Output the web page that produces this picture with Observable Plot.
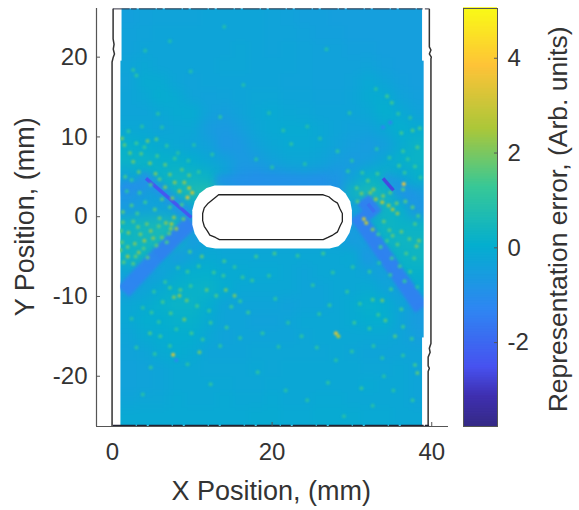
<!DOCTYPE html>
<html><head><meta charset="utf-8">
<script src="https://cdn.jsdelivr.net/npm/d3@7"></script>
<script src="https://cdn.jsdelivr.net/npm/@observablehq/plot@0.6"></script>
<style>
html,body{margin:0;padding:0;background:#fff}
#wrap{position:relative;width:579px;height:510px}
#wrap svg{position:absolute;left:0;top:0;background:transparent}
.soft{filter:blur(0.9px)}
.thin{filter:blur(0.6px)}
.band{filter:blur(1.6px)}
.softer{filter:blur(3px)}
</style></head><body><div id="wrap"></div>
<script>
// Error field sampled every 2 mm, rows y = 25 ... -25, columns x = 2 ... 38
const errorRows = [
[-.45,-.4,-.35,-.35,-.35,-.3,-.3,-.3,-.3,-.35,-.4,-.45,-.45,-.5,-.5,-.5,-.5,-.5,-.5],
[-.4,-.35,-.3,-.3,-.3,-.3,-.3,-.3,-.3,-.35,-.35,-.4,-.45,-.45,-.5,-.5,-.5,-.5,-.5],
[-.4,-.3,-.3,-.3,-.3,-.3,-.3,-.25,-.3,-.35,-.3,-.35,-.4,-.4,-.45,-.45,-.5,-.5,-.5],
[-.3,-.2,-.3,-.3,-.3,-.3,-.25,-.25,-.3,-.3,-.3,-.35,-.4,-.4,-.4,-.35,-.45,-.5,-.5],
[-.35,-.1,-.1,-.3,-.35,-.3,-.3,-.3,-.3,-.3,-.35,-.35,-.4,-.4,-.35,-.15,-.3,-.45,-.5],
[-.3,-.2,0,-.1,-.35,-.4,-.35,-.3,-.25,-.25,-.3,-.3,-.35,-.35,-.3,-.1,-.05,-.35,-.45],
[-.3,-.3,-.2,-.1,-.05,-.4,-.5,-.35,-.2,-.15,-.2,-.25,-.3,-.3,-.3,-.2,.05,-.15,-.35],
[-.2,-.2,-.3,-.2,-.2,-.6,-.7,-.5,-.25,-.15,-.1,-.1,-.2,-.3,-.4,-.4,-.2,.05,-.1],
[.1,0,-.1,-.2,-.3,-.4,-.8,-.7,-.4,-.2,-.15,-.15,-.2,-.35,-.5,-.6,-.5,-.1,.2],
[.2,.2,.1,.1,0,-.2,-.4,-.7,-.6,-.4,-.25,-.25,-.3,-.5,-.6,-.5,-.2,.1,.2],
[-.3,.1,.2,.3,.3,.2,-.3,-.8,-.9,-.8,-.7,-.6,-.7,-.8,-.4,.1,.2,-.3,.1],
[-.8,-.6,-.2,.3,.6,.8,-.7,-.9,-.9,-.9,-.9,-.9,-.9,-.9,.3,.6,.3,-.6,-.6],
[-.6,-.4,-.4,-.4,-.2,-.5,-.5,-.5,-.5,-.5,-.5,-.5,-.5,-.5,-.4,-.9,.3,.1,-.8],
[.3,.4,.5,.4,-.5,-.5,-.5,-.5,-.5,-.5,-.5,-.5,-.5,-.5,-.6,-.1,.3,.2,.2],
[.3,.4,.5,.2,-.6,-.3,-.3,-.3,-.3,-.3,-.3,-.3,-.3,-.3,-.6,-.5,.2,.3,.3],
[.3,.3,-.2,-.6,-.3,-.1,-.2,-.2,-.2,-.2,-.2,-.2,-.2,-.2,-.1,-.8,-.2,.2,.3],
[-.3,-.6,-.4,-.1,.05,.05,-.1,-.1,-.15,-.15,-.2,-.3,-.2,-.2,-.2,-.3,-.5,.1,.1],
[-.6,-.3,-.1,.1,.15,.2,0,-.2,-.2,-.2,-.2,-.3,-.3,-.2,-.2,-.1,-.3,-.5,-.1],
[-.2,-.1,.1,.2,.2,0,-.3,-.3,-.3,-.3,-.4,-.3,-.3,-.2,-.1,.1,0,-.3,-.6],
[-.2,0,0,.1,.1,-.1,-.3,-.3,-.4,-.4,-.3,-.2,-.2,-.2,-.1,0,.05,-.3,-.6],
[-.3,-.1,-.05,0,0,-.2,-.35,-.3,-.3,-.3,-.3,-.25,-.2,-.2,-.2,-.2,-.2,-.3,-.5],
[-.35,-.3,-.1,-.05,-.1,-.3,-.3,-.3,-.25,-.25,-.25,-.25,-.25,-.2,-.25,-.3,-.3,-.3,-.3],
[-.4,-.35,-.3,-.2,-.2,-.25,-.25,-.25,-.2,-.25,-.2,-.2,-.2,-.2,-.2,-.25,-.25,-.2,-.3],
[-.4,-.35,-.3,-.2,-.2,-.2,-.2,-.25,-.25,-.2,-.2,-.2,-.2,-.2,-.2,-.15,-.2,-.2,-.3],
[-.3,-.25,-.25,-.15,-.2,-.2,-.15,-.2,-.2,-.15,-.2,-.2,-.15,-.15,-.2,-.2,-.2,-.2,-.3],
[-.15,-.15,-.15,-.15,-.15,-.15,-.15,-.15,-.1,-.1,-.15,-.15,-.1,-.1,-.1,-.15,-.15,-.2,-.2]
];
const wideBands = [
[9.9,-.6,5.5,-5,-1.5],[5.5,-5,1.4,-9.4,-1.4],
[30.6,.2,38.7,-11.5,-1.5],
[31.4,2.2,33,.2,-1.5]
];
const softBands = [
[3.6,5.4,10,-.2,-1.2],[1,3.6,4.2,4,-1.1],[34,5.2,38,2,-.9],[13,4.6,27,4.6,-1]
];
const thinStreaks = [
[4.2,4.8,9.9,-.1,-2.4],[33.9,4.8,35.2,3.3,-2.7],[32,1.6,32.8,.6,-1.8]
];
const speckles = [
[1.2,9.8,1.8],[1.5,9,1.6],[3,9.2,1.2],[4.4,9.5,1.8],[5.5,9.7,1.5],[2.2,8,1.6],[3.6,7.9,1.5],[5.6,7.6,1.3],[7.8,7.3,1.1],[2.6,6.9,1.7],
[4.7,6.7,1.8],[6.6,6.5,1.6],[8.7,5.9,1.5],[3.3,5.6,1.6],[5.4,5.4,1.9],[7.2,5.3,1.7],[9.6,5.2,1.6],[7.8,4.3,2],[9,4.3,2.1],[6.6,3.7,1.9],
[8.4,3.2,2.3],[9.6,3.6,2.6],[10,3,3],[9.4,2.4,3.2],[7.5,2.3,1.9],[6.2,2.2,1.5],[8.7,1.5,1.4],[2.4,1.4,1.4],[1.3,.6,1.6],[5.3,.9,1.5],
[6.7,-.8,2],[7.4,-.9,2.4],[8,-1.5,2.2],[5.8,-1.2,1.6],[4.8,-1.8,2],[3.2,-1.3,1.7],[2,-2,1.9],[1.3,-.7,1.6],[6.2,-2.6,1.8],[4,-3,2.2],
[2.8,-3.4,1.9],[1.2,-3.2,1.6],[5.5,-3.6,1.6],[3.3,-4.5,2],[1.9,-5,2.2],[1,-4.2,1.8],[4.4,-5.1,1.5],[2.6,-5.9,1.5],[7.7,-.1,2.1],[8.9,-.3,1.7],
[9.7,-4.4,1.4],[11.2,-5,1.6],[14,-5.6,1.3],[18,-5,1.3],[20.3,-4.6,1.4],[23.2,-4.9,1.1],[26.4,-4.6,1.3],[9.8,-8.7,1.2],[8.5,-9.2,1.5],[7.7,-10.1,1.9],
[8.4,-9.9,2.1],[9.3,-10.5,1.7],[11.8,-9.2,1.6],[13,-9.9,1.4],[14.2,-9.2,1.8],[15.3,-9.9,1.9],[6.3,-10.7,1.3],[13.9,-7.4,1.2],[16.3,-7.6,1.1],[4.9,-12,1.1],
[7.3,-12.1,1.4],[9,-12.9,1.8],[12.3,-13.3,1.2],[4.7,-14.6,1.4],[6,-15,1.2],[7.6,-17.3,3.2],[8,-18,-1.2],[9.9,-14.6,1.3],[10.9,-17,1.8],[14.3,-13.9,1.2],
[17,-12,1.2],[20.4,-10.3,1],[22,-13.3,.9],[25.1,-8.6,1],[27.2,-11.1,1.1],[4.8,-18.9,1],[3.8,-22.3,.9],[12.3,-21,1],[18.2,-19.5,1],[21.7,-21.8,.9],
[27,-20.8,1],[30.3,-13.3,1.2],[32.6,-10.4,1.4],[32.2,-14,1.1],[34.2,-13,1.5],[33.8,-10.5,1.7],[35.4,-15,1.5],[36.6,-8.1,1.1],[37.3,-6.9,1.3],[34.8,-7.3,1.1],
[28,-14.6,3.3],[28.3,-15,2.6],[25.9,-12.2,1],[30,-16.9,1],[34,-20,.9],[37.6,-23,1],[38.2,-19.6,1.6],[37.9,-18.6,1.3],[31.2,-21.5,1.1],[29,-25,.9],
[31.5,-.3,3],[31.8,-.8,2.8],[32.6,-1.6,2],[33.3,-2.2,1.2],[34,-.6,1.6],[34.7,-1.7,1.5],[36.2,-1.9,1.7],[37.2,-2.8,1.5],[38.1,-3.7,1.9],[38.4,-3,1.8],
[35.7,-3.5,1.5],[36.8,-4.6,1.4],[35,-5.2,1.2],[33,2.2,2.2],[33.8,1.8,2.6],[34.6,1.4,2.2],[35.1,.9,2.4],[35.7,.4,2.1],[31.2,2.9,1.8],[32,4.5,1.5],
[32.7,3.4,2],[33.9,2.6,1.9],[30.6,3.6,1.5],[30.7,1.9,1.5],[36.5,4.1,3.6],[36.4,3.4,1.5],[37.6,1.2,1.5],[35.9,6.4,1.3],[36.4,8.2,1.2],[38.2,8.7,1.4],
[36.2,10.5,1.3],[37.6,10.8,1.4],[38.5,11.1,1.3],[29.7,13,.9],[33,16,.9],[34.4,15.1,1.3],[35,14.3,1.3],[33.9,11.2,-1.3],[34.8,11.8,-1.4],[30,7,.9],
[3,17.7,1],[2.6,18.4,1],[5.7,12.9,.9],[4.1,20.8,.8],[13.5,12.5,1],[21.4,10.8,.9],[22.4,9.1,1],[28.2,8.2,1],[24.4,11.3,.8],[26.8,21,.8],[14,23.8,.8],
[1.8,3.2,.9],[3.4,3,1.1],[4.8,4,1.3],[5.9,4.7,1.5],[4,8.7,1.1],[6.8,8.9,1],[8.2,8,.9],[9.5,7,.9],[10.8,5.6,1.1],[2,10.7,1],
[3.7,11.3,.9],[6.2,11.2,.8],[1.6,5,1.4],[2.4,4.6,1],[7.2,1.2,1.3],[4.1,1.8,1.2],[3.1,.4,1.3],[5.9,-.2,1.6],[2.6,-.6,1.5],[4.3,-.9,1.7],
[7.1,-2.1,1.6],[5.1,-2.7,2],[3.5,-2.2,1.8],[1.9,-3.8,1.7],[3.9,-4,1.5],[1.4,-5.7,1.5],[2.9,-5,1.6],[6.8,-3.2,1.4],[7.3,-1.5,2],[1.1,-1.8,1.5],
[8.2,-6.4,1],[9.4,-6.9,1.2],[10.8,-6.2,1.1],[12.7,-7,1.2],[15.3,-6.3,1],[17.5,-8,1.1],[19.6,-7.4,1],[6.6,-8.2,1.1],[5.2,-9.4,1],[7.2,-8.9,1.3],
[10.6,-11.2,1.3],[12.1,-11.8,1.1],[14.9,-11.3,1.2],[16,-10.6,1.1],[3.8,-11.4,.9],[2.4,-12.8,.9],[5.8,-13.2,1],[8,-14.1,1],[11.3,-15.4,1.1],[13.5,-16.2,1],
[3,-16.4,1],[5.3,-17.2,1],[7.2,-16.2,1.1],[9.4,-18.5,.9],[16,-15.2,1],[18.8,-14.6,1],[20.8,-16.3,.9],[23.7,-15,1],[25.6,-16.4,1],[28,-18,.9],
[32.2,-6.9,1.1],[33.4,-5.8,.9],[36,-6.2,1.2],[37.8,-5.2,1.4],[38.2,-8.8,.9],[34.9,-9.1,1.2],[36.2,-11.6,1.3],[33.3,-12.3,1.2],[31,-10.9,1.1],[29.4,-9.4,1.1],
[27.6,-7,1],[30.1,-6.3,1],[36.4,-13.8,1.2],[37.5,-15.3,1.1],[32.7,-16.2,1],[33.8,-17.7,.9],[36.4,-17.4,1],[35.2,-21.8,.9],[32.6,-23.7,.9],[24.4,-23,.9],
[34.4,-3,1.3],[33.6,-3.8,1.3],[35.1,-2.4,1.6],[37.9,-.9,1.4],[38.3,.1,1.3],[36.7,1.9,1.5],[35.6,1.7,1.7],[32.3,3,1.9],[34.8,3,1.5],[33.2,5.4,1.3],
[31.3,5.5,1.1],[29.5,5.7,1],[36.6,5.5,1.1],[37.9,6.3,1.2],[38.6,4.9,1.1],[37,7.2,1],[34.7,7.4,1],[33.1,8.5,.9],[37.3,12.4,.9],[35.8,12.9,1],
[10.2,9,.8],[12.5,7.8,.9],[18,7.2,.8],[20,6.2,.9],[24.1,6.6,.8],[26,9.8,.8],[19.6,13,.8],[16.4,16.5,.8],[9.8,18.2,.8],[7.2,22,.7]
];
const blankedEdges = [[.9,1.2,19.5,26.1],[38.85,39.2,19.5,26.1],[38.85,39.2,-26.3,-15.2]];
const fieldMargins = [[-2,1],[39.05,42.1]];
const maskX = [12.8,27.3,28.4,29.2,29.8,30,30,29.7,29.1,28.3,27.2,12.9,11.8,10.9,10.3,10,10,10.3,10.9,11.8];
const maskY = [3.9,3.9,3.6,2.9,1.9,.8,-.9,-2,-3,-3.7,-4,-4,-3.8,-3.1,-2.1,-1,.8,1.9,2.9,3.6];
const slotX = [13.3,26.4,27.1,27.7,28.2,28.5,28.8,28.8,28.5,28.2,27.6,27,26.4,13.4,12.9,12.2,11.9,11.5,11.3,11.3,11.5,12,12.5,13,13.3];
const slotY = [2.75,2.75,2.5,2,1.7,1,.4,-.6,-1.2,-1.9,-2.3,-2.6,-2.88,-2.88,-2.6,-2.3,-1.8,-1.2,-.5,.4,1.1,1.7,2.1,2.5,2.75];
const leftEdgeX = [.08,.08,.2,.1,.25,.1,-.05,-.05,-.05];
const leftEdgeY = [26,22.3,21.6,21,20.4,20,19.4,0,-26.2];
const rightEdgeX = [39.7,39.7,39.9,39.7,39.95,39.9,39.9,39.7,39.8,39.55,39.55,39.7,39.55,39.55];
const rightEdgeY = [26,21.3,20.9,20.4,20,19.8,-15.9,-16.5,-17,-17.6,-18.7,-19,-19.4,-26.2];
const bottomEdgeX = [.1,39.6];
const bottomEdgeY = [-26.15,-26.15];
const topEdgeX = [.1,39.6];
const topEdgeY = [26.05,26.05];
const parulaStops = [0,.07,.14,.28,.43,.57,.71,.86,1];
const parulaColors = ["#352a87","#3e2fb0","#4752f0","#2e87f2","#04aecf","#37c897","#abc739","#fec338","#f9fb15"];
const cMin = -3.77, cMax = 5.05;
const xTicks = [0,20,40], yTicks = [-20,-10,0,10,20], cTicks = [-2,0,2,4];

const colorScale = {type:"linear", domain:parulaStops.map(t=>cMin+t*(cMax-cMin)), range:parulaColors, interpolate:"rgb", clamp:true};
const ink = "#333", spine = "#555", font = "'Liberation Sans', Arial, sans-serif";
const cells = errorRows.flatMap((row,j)=>row.map((v,i)=>({x:2+2*i,y:25-2*j,v})));
const pts = (a,b)=>a.map((x,i)=>({x,y:b[i]}));
const linkOpt = (o)=>({x1:d=>d[0],y1:d=>d[1],x2:d=>d[2],y2:d=>d[3],stroke:d=>d[4],...o});
const levels = d3.range(0,256).map(i=>cMin+i*(cMax-cMin)/256);
const step = (cMax-cMin)/256;

const main = Plot.plot({
  width:579,height:510,marginLeft:96,marginRight:131,marginTop:8,marginBottom:84,
  style:{fontFamily:font,background:"transparent",overflow:"visible"},
  x:{domain:[-2,42.1]},y:{domain:[-26.3,26.1]},color:colorScale,
  marks:[
    Plot.raster(cells,{x:"x",y:"y",fill:"v",interpolate:"nearest",x1:1,x2:39.05,y1:-26.2,y2:26.1,pixelSize:1,blur:5}),
    Plot.link(softBands,linkOpt({strokeWidth:11,strokeOpacity:.7,className:"softer"})),
    Plot.link(wideBands,linkOpt({strokeWidth:15,strokeOpacity:.9,className:"band"})),
    Plot.link(thinStreaks,linkOpt({strokeWidth:3.5,className:"thin"})),
    Plot.dot(speckles,{x:d=>d[0],y:d=>d[1],fill:d=>d[2],r:2,className:"soft"}),
    Plot.rect(blankedEdges,{x1:d=>d[0],x2:d=>d[1],y1:d=>d[2],y2:d=>d[3],fill:"white"}),
    Plot.rect(fieldMargins,{x1:d=>d[0],x2:d=>d[1],y1:()=>-26.3,y2:()=>26.1,fill:"white"}),
    Plot.line(pts(maskX,maskY),{x:"x",y:"y",fill:"white",stroke:"none"}),
    Plot.line(pts(slotX,slotY),{x:"x",y:"y",stroke:"#222",strokeWidth:1.3}),
    Plot.line(pts(leftEdgeX,leftEdgeY),{x:"x",y:"y",stroke:"#333",strokeWidth:1.5}),
    Plot.line(pts(rightEdgeX,rightEdgeY),{x:"x",y:"y",stroke:"#333",strokeWidth:1.5}),
    Plot.line(pts(bottomEdgeX,bottomEdgeY),{x:"x",y:"y",stroke:"#223",strokeWidth:1.3,strokeDasharray:"22 2 9 3"}),
    Plot.line(pts(topEdgeX,topEdgeY),{x:"x",y:"y",stroke:"#334",strokeWidth:1,strokeDasharray:"16 2 5 3"}),
    Plot.ruleX([-2],{stroke:spine,strokeWidth:1.2}),
    Plot.ruleY([-26.3],{stroke:spine,strokeWidth:1.2}),
    Plot.axisY({ticks:yTicks,tickSize:-4,stroke:spine,tickPadding:13,fontSize:24,fill:ink,tickFormat:d=>String(d),label:null}),
    Plot.axisX({ticks:xTicks,tickSize:-4,stroke:spine,tickPadding:20,fontSize:24,fill:ink,tickFormat:d=>String(d),label:null}),
    Plot.text(["X Position, (mm)"],{x:[19.9],y:[-26.3],dy:65,fontSize:27,fill:ink,text:d=>d}),
    Plot.text(["Y Position, (mm)"],{x:[-2],y:[0],dx:-71,fontSize:27,rotate:-90,fill:ink,text:d=>d})
  ]
});
const bar = Plot.plot({
  width:579,height:510,marginLeft:463,marginRight:82,marginTop:8,marginBottom:84,
  style:{fontFamily:font,background:"transparent",overflow:"visible"},
  x:{domain:[0,1],axis:null},y:{domain:[cMin,cMax],axis:null},color:colorScale,
  marks:[
    Plot.rect(levels,{x1:()=>0,x2:()=>1,y1:d=>d,y2:d=>d+step*1.5,fill:d=>d}),
    Plot.frame({stroke:spine,strokeWidth:1}),
    Plot.axisY({anchor:"right",ticks:cTicks,tickSize:-4,stroke:spine,tickPadding:14,fontSize:24,fill:ink,textAnchor:"start",tickFormat:d=>String(d),label:null}),
    Plot.text(["Representation error, (Arb. units)"],{x:[1],y:[.6],dx:61,fontSize:26.5,rotate:-90,fill:ink,text:d=>d})
  ]
});
const w = document.getElementById("wrap");
w.append(main); w.append(bar);
</script></body></html>
